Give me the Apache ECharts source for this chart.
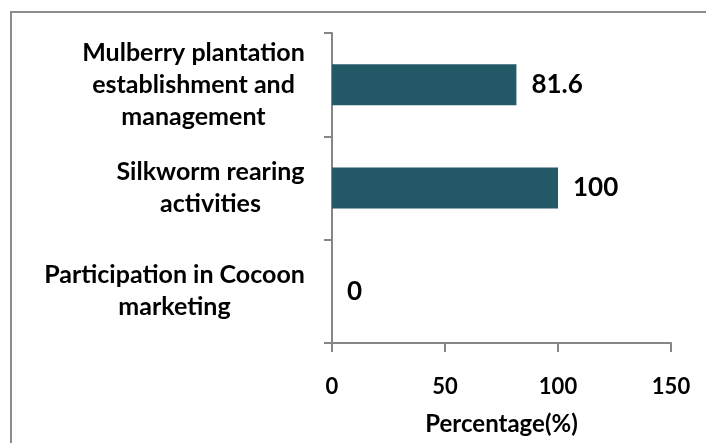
<!DOCTYPE html>
<html>
<head>
<meta charset="utf-8">
<script src="https://cdn.jsdelivr.net/npm/echarts@6/dist/echarts.min.js"></script>
<style>
  html, body { margin: 0; padding: 0; background: #fff; }
  #chart { width: 706px; height: 443px; }
</style>
</head>
<body>
<div id="chart"></div>
<script>
const categories = [
  'Mulberry plantation\nestablishment and\nmanagement',
  'Silkworm rearing\nactivities',
  'Participation in Cocoon\nmarketing'
]
const percentages = [81.6, 100, 0]
const xTicks = [0, 50, 100, 150]

const chart = echarts.init(document.getElementById('chart'))
const font = 'Lato, "Open Sans", sans-serif'
const axisGray = '#868686'
const catFontSize = 25

// labels are right-aligned as a block, but each line is centred inside it
const ctx = document.createElement('canvas').getContext('2d')
ctx.font = 'bold ' + catFontSize + 'px Lato'
const rich = {}
categories.forEach((c, i) => {
  const w = Math.max(...c.split('\n').map(s => ctx.measureText(s).width))
  rich['c' + i] = {
    width: Math.ceil(w),
    align: 'center',
    fontFamily: font,
    fontWeight: 'bold',
    fontSize: catFontSize,
    lineHeight: 32,
    color: '#000'
  }
})

const option = {
  animation: false,
  graphic: [
    {
      type: 'rect',
      shape: { x: 11, y: 12, width: 900, height: 900 },
      style: { fill: 'none', stroke: '#8c8c8c', lineWidth: 2 }
    }
  ],
  grid: { left: 332, top: 33, right: 35, bottom: 100 },
  xAxis: {
    type: 'value',
    min: xTicks[0],
    max: xTicks[xTicks.length - 1],
    interval: 50,
    name: 'Percentage(%)',
    nameLocation: 'middle',
    nameGap: 69,
    nameTextStyle: { fontFamily: font, fontWeight: 'bold', fontSize: 24, color: '#000' },
    axisLine: { show: true, lineStyle: { color: axisGray, width: 2 } },
    axisTick: { show: true, length: 9, lineStyle: { color: axisGray, width: 2 } },
    axisLabel: { margin: 33, fontFamily: font, fontWeight: 'bold', fontSize: 22, color: '#000' },
    splitLine: { show: false }
  },
  yAxis: {
    type: 'category',
    inverse: true,
    data: categories,
    axisLine: { show: true, lineStyle: { color: axisGray, width: 2 } },
    axisTick: { show: true, length: 8, lineStyle: { color: axisGray, width: 2 } },
    axisLabel: {
      margin: 27,
      align: 'right',
      formatter (value, index) {
        return value.split('\n').map(s => '{c' + index + '|' + s + '}').join('\n')
      },
      rich
    }
  },
  series: [
    {
      type: 'bar',
      data: percentages,
      barWidth: 41,
      itemStyle: { color: '#235867' },
      label: {
        show: true,
        position: 'right',
        distance: 15,
        fontFamily: font,
        fontWeight: 'bold',
        fontSize: 26,
        color: '#000'
      }
    }
  ]
}

chart.setOption(option)
</script>
</body>
</html>
